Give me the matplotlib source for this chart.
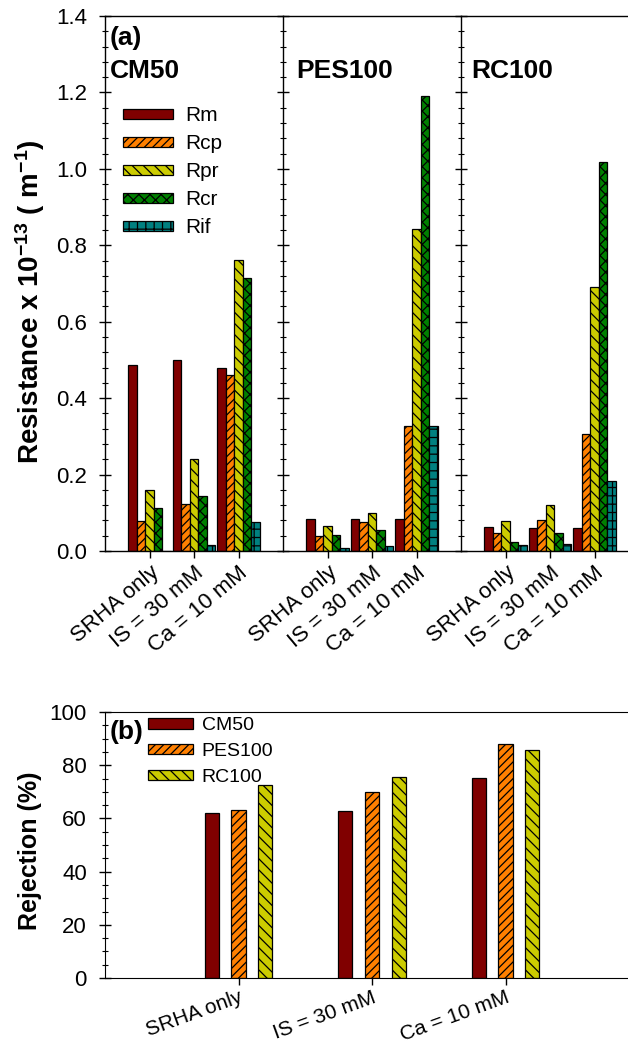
import matplotlib
matplotlib.use('Agg')
import matplotlib.pyplot as plt
import numpy as np
from matplotlib.ticker import MultipleLocator, FormatStrFormatter

plt.rcParams['font.family'] = ['Liberation Sans', 'DejaVu Sans']
plt.rcParams['mathtext.fontset'] = 'custom'
plt.rcParams['mathtext.bf'] = 'Liberation Sans:bold'
plt.rcParams['mathtext.rm'] = 'Liberation Sans:bold'
plt.rcParams['mathtext.default'] = 'bf'
plt.rcParams['hatch.linewidth'] = 0.9

conditions = ['SRHA only', 'IS = 30 mM', 'Ca = 10 mM']
membranes = ['CM50', 'PES100', 'RC100']
resist_names = ['Rm', 'Rcp', 'Rpr', 'Rcr', 'Rif']

# resistance x 1e-13 (1/m); rows = condition, cols = Rm, Rcp, Rpr, Rcr, Rif
cm50_R = [[0.486, 0.078, 0.160, 0.113, 0.0],
          [0.499, 0.123, 0.240, 0.145, 0.016],
          [0.479, 0.460, 0.762, 0.715, 0.075]]
pes100_R = [[0.083, 0.039, 0.065, 0.042, 0.007],
            [0.083, 0.075, 0.099, 0.056, 0.014],
            [0.083, 0.327, 0.843, 1.190, 0.327]]
rc100_R = [[0.063, 0.048, 0.078, 0.024, 0.016],
           [0.061, 0.082, 0.121, 0.046, 0.019],
           [0.061, 0.305, 0.690, 1.019, 0.182]]

# rejection (%) per condition
rej_cm50 = [61.9, 62.9, 75.1]
rej_pes100 = [63.1, 69.9, 87.9]
rej_rc100 = [72.5, 75.4, 85.9]

colors = ['#800000', '#FF8000', '#CCCC00', '#008000', '#008080']
hatches = ['', '////', '\\\\\\', 'xxx', '++']

W, H = 628, 1046
fig = plt.figure(figsize=(W / 100, H / 100), dpi=100)

def px_rect(x0, y0, x1, y1):
    # pixel box (top-left origin) -> figure fraction
    return [x0 / W, 1 - y1 / H, (x1 - x0) / W, (y1 - y0) / H]

def fx(x):
    return x / W

def fy(y):
    return 1 - y / H

########################
# (a) resistance panels
########################
edges = [105, 283, 461, 639]
all_R = [cm50_R, pes100_R, rc100_R]
w = 0.19
xg = np.arange(len(conditions))
axes_a = []
for k in range(3):
    ax = fig.add_axes(px_rect(edges[k], 16, edges[k + 1], 551))
    axes_a.append(ax)
    data = np.array(all_R[k])
    for j in range(len(resist_names)):
        ax.bar(xg + (j - 2) * w, data[:, j], w, color=colors[j],
               hatch=hatches[j], edgecolor='black', linewidth=0.9,
               label=resist_names[j])
    ax.set_xlim(-1, 3)
    ax.set_ylim(0, 1.4)
    ax.yaxis.set_major_locator(MultipleLocator(0.2))
    ax.yaxis.set_minor_locator(MultipleLocator(0.04))
    ax.set_xticks(xg)
    ax.set_xticklabels(conditions, rotation=40, ha='right',
                       rotation_mode='anchor', fontsize=16)
    ax.tick_params(axis='x', direction='out', length=5, width=1, pad=3)
    ax.tick_params(axis='y', which='major', direction='inout', length=8, width=1)
    ax.tick_params(axis='y', which='minor', direction='inout', length=5, width=0.8)
    ax.spines['right'].set_visible(False)
    for s in ax.spines.values():
        s.set_linewidth(1)
    if k == 0:
        ax.yaxis.set_major_formatter(FormatStrFormatter('%.1f'))
        ax.tick_params(axis='y', labelsize=16, pad=9)
    else:
        ax.tick_params(axis='y', labelleft=False)

fig.text(fx(30), fy(302), 'Resistance x 10$^{-13}$ ( m$^{-1}$)', fontsize=20,
         fontweight='bold', rotation=90, ha='center', va='center')

axes_a[0].legend(loc='upper left', bbox_to_anchor=(0.101, 0.831), frameon=False,
                 fontsize=15, handlelength=2.4, handleheight=0.384,
                 handletextpad=0.58, labelspacing=0.43, borderpad=0,
                 borderaxespad=0)

fig.text(fx(110), fy(45), '(a)', fontsize=19, fontweight='bold', va='baseline')
name_x = [110, 296, 471]
for k, name in enumerate(membranes):
    fig.text(fx(name_x[k]), fy(78), name, fontsize=19, fontweight='bold',
             va='baseline')

###################
# (b) rejection
###################
axb = fig.add_axes(px_rect(105, 712, 639, 978))
xb = np.arange(1, len(conditions) + 1)
rej = [rej_cm50, rej_pes100, rej_rc100]
for j in range(3):
    axb.bar(xb + (j - 1) * 0.2, rej[j], 0.105, color=colors[j],
            hatch=hatches[j], edgecolor='black', linewidth=0.9,
            label=membranes[j])
axb.set_xlim(0, 4)
axb.set_ylim(0, 100)
axb.yaxis.set_major_locator(MultipleLocator(20))
axb.yaxis.set_minor_locator(MultipleLocator(5))
axb.set_xticks(xb)
axb.set_xticklabels(conditions, rotation=20, ha='right',
                    rotation_mode='anchor', fontsize=15)
axb.tick_params(axis='x', direction='out', length=5, width=1, pad=2)
axb.tick_params(axis='y', which='major', direction='inout', length=8, width=1,
                labelsize=16, pad=9)
axb.tick_params(axis='y', which='minor', direction='inout', length=5, width=0.8)
axb.spines['right'].set_visible(False)
fig.text(fx(30), fy(851), 'Rejection (%)', fontsize=18, fontweight='bold',
         rotation=90, ha='center', va='center')
axb.legend(loc='upper left', bbox_to_anchor=(0.0805, 0.98), frameon=False,
           fontsize=14, handlelength=2.31, handleheight=0.46,
           handletextpad=0.46, labelspacing=0.45, borderpad=0,
           borderaxespad=0)
fig.text(fx(110), fy(739), '(b)', fontsize=19, fontweight='bold', va='baseline')

fig.savefig('out.png', dpi=100)
